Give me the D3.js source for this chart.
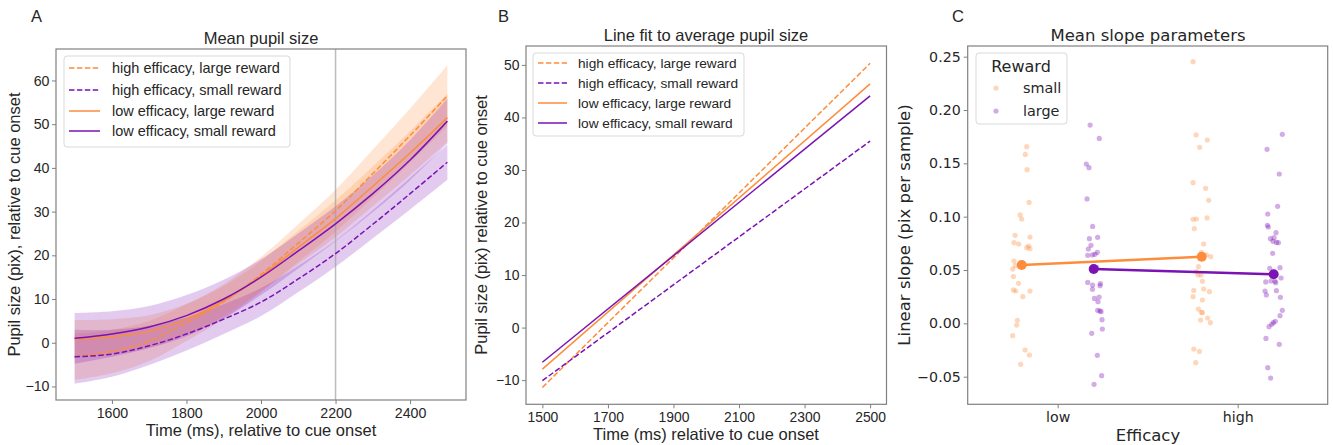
<!DOCTYPE html>
<html>
<head>
<meta charset="utf-8">
<script src="https://cdn.jsdelivr.net/npm/d3@7"></script>
<style>
body { margin: 0; background: #fff; }
text { fill: #262626; }
</style>
</head>
<body>
<svg id="fig" width="1333" height="445"></svg>
<script>

// ---------- data ----------

// panel A: mean pupil size (pix) with confidence band, sampled every 100 ms
var times = [1500, 1600, 1700, 1800, 1900, 2000, 2100, 2200, 2300, 2400, 2500];

var hiLargeMean = [-3.2, -2.0, 0.4, 4.6, 9.4, 15.6, 22.8, 30.2, 38.7, 47.4, 56.5];
var hiLargeLow  = [-8.5, -7.0, -4.2, 0.4, 5.4, 11.6, 18.5, 25.4, 33.2, 41.2, 49.5];
var hiLargeHigh = [2.1, 3.0, 5.0, 8.8, 13.4, 19.6, 27.1, 35.0, 44.2, 53.6, 63.5];

var hiSmallMean = [-3.2, -2.6, -0.7, 2.0, 5.4, 9.3, 14.6, 20.4, 27.1, 34.1, 41.3];
var hiSmallLow  = [-9.4, -7.8, -5.1, -1.8, 2.0, 6.1, 11.6, 17.4, 23.9, 30.5, 37.3];
var hiSmallHigh = [3.0, 3.0, 3.9, 5.8, 8.8, 12.5, 17.6, 23.4, 30.3, 37.7, 45.3];

var loLargeMean = [0.8, 1.4, 2.6, 5.4, 9.6, 15.2, 21.8, 28.4, 35.8, 43.4, 51.5];
var loLargeLow  = [-3.6, -2.6, -1.1, 1.9, 6.2, 11.7, 18.0, 24.2, 31.2, 38.4, 46.0];
var loLargeHigh = [5.2, 5.4, 6.3, 8.9, 13.0, 18.7, 25.6, 32.6, 40.4, 48.4, 57.0];

var loSmallMean = [1.0, 2.0, 3.6, 6.2, 10.0, 15.0, 21.0, 27.2, 34.1, 41.8, 50.7];
var loSmallLow  = [-4.8, -3.2, -1.2, 1.5, 5.6, 10.9, 17.0, 23.2, 29.9, 37.2, 45.5];
var loSmallHigh = [6.8, 7.2, 8.4, 10.9, 14.4, 19.1, 25.0, 31.2, 38.3, 46.4, 55.9];

var conditionNames = ["high efficacy, large reward", "high efficacy, small reward",
                      "low efficacy, large reward", "low efficacy, small reward"];
var markerTime = 2200;

// panel B: straight line fits, value at 1500 and at 2500 ms
var fitTimes = [1500, 2500];
var fitHiLarge = [-11.4, 50.3];
var fitHiSmall = [-10.1, 35.5];
var fitLoLarge = [-7.9, 46.4];
var fitLoSmall = [-6.6, 44.1];

// panel C: slopes per subject, jitter is the horizontal strip offset (category units)
var efficacyCats = ["low", "high"];
var rewardNames = ["small", "large"];

var lowSmallVals = [0.1656, 0.1584, 0.1441, 0.1134, 0.1016, 0.0978, 0.0825, 0.0809, 0.0756, 0.0744,
  0.0725, 0.0709, 0.0700, 0.0584, 0.0541, 0.0509, 0.0438, 0.0375, 0.0313, 0.0303,
  0.0303, 0.0250, 0.0028, -0.0016, -0.0116, -0.0250, -0.0297, -0.0384];
var lowSmallJit = [0.028, 0.020, 0.030, 0.041, -0.009, 0.000, -0.037, 0.046, -0.043, -0.017,
  0.039, 0.028, 0.046, -0.043, -0.035, -0.050, -0.046, -0.018, -0.046, -0.033,
  0.046, 0.006, -0.024, -0.028, -0.050, 0.019, 0.043, -0.006];

var lowLargeVals = [0.1859, 0.1734, 0.1494, 0.1459, 0.1166, 0.0909, 0.0806, 0.0794, 0.0731, 0.0697,
  0.0666, 0.0647, 0.0641, 0.0638, 0.0525, 0.0384, 0.0372, 0.0359, 0.0353, 0.0319,
  0.0247, 0.0234, 0.0203, 0.0122, 0.0116, 0.0109, 0.0034, -0.0053, -0.0094, -0.0300,
  -0.0491, -0.0572];
var lowLargeJit = [-0.020, 0.031, -0.041, -0.026, -0.037, -0.006, 0.022, -0.024, -0.015, -0.030,
  0.020, 0.007, -0.007, -0.033, 0.017, -0.033, 0.037, -0.006, 0.035, -0.007,
  0.030, 0.004, 0.024, 0.022, 0.035, 0.041, 0.046, 0.048, -0.011, 0.020,
  0.044, 0.002];

var highSmallVals = [0.2453, 0.1766, 0.1719, 0.1650, 0.1319, 0.1266, 0.1153, 0.0988, 0.0978, 0.0975,
  0.0888, 0.0744, 0.0666, 0.0641, 0.0625, 0.0531, 0.0484, 0.0453, 0.0453, 0.0394,
  0.0322, 0.0309, 0.0297, 0.0250, 0.0219, 0.0134, 0.0103, 0.0100, 0.0050, 0.0031,
  0.0006, -0.0241, -0.0263, -0.0369];
var highSmallJit = [-0.048, -0.031, 0.031, -0.011, -0.048, 0.022, 0.039, 0.030, -0.030, -0.048,
  -0.041, 0.011, -0.002, 0.026, 0.050, -0.018, -0.030, -0.020, -0.004, 0.004,
  0.011, -0.044, 0.043, -0.048, 0.004, -0.018, -0.002, 0.004, 0.033, -0.006,
  0.048, -0.044, -0.013, -0.033];

var highLargeVals = [0.1772, 0.1631, 0.1400, 0.1097, 0.1025, 0.0919, 0.0903, 0.0850, 0.0803, 0.0794,
  0.0769, 0.0759, 0.0756, 0.0656, 0.0522, 0.0516, 0.0466, 0.0425, 0.0397, 0.0394,
  0.0388, 0.0381, 0.0306, 0.0303, 0.0266, 0.0244, 0.0122, 0.0072, 0.0019, 0.0006,
  -0.0009, -0.0031, -0.0141, -0.0197, -0.0416, -0.0513];
var highLargeJit = [0.048, -0.037, 0.031, 0.022, -0.033, -0.035, -0.030, 0.013, 0.002, -0.018,
  -0.004, 0.015, 0.026, -0.006, 0.035, -0.022, 0.004, 0.041, -0.015, 0.007,
  -0.044, 0.011, 0.015, -0.048, -0.041, 0.037, 0.048, 0.035, 0.009, -0.002,
  -0.011, -0.026, -0.043, 0.031, -0.033, -0.017];

var meanSmall = [0.0547, 0.0625];
var meanLarge = [0.0510, 0.0460];

// ---------- drawing ----------

var orange = "#fd8d3c",
    purple = "#7a12b4",
    spine = "#808080",
    sansA = "'Liberation Sans', Arial, sans-serif",
    sansC = "'DejaVu Sans', sans-serif";

var fig = d3.select("#fig");

function styleAxis(ax, font, size) {
  ax.select(".domain").remove();
  ax.selectAll(".tick line").attr("stroke", spine).attr("stroke-width", 1);
  ax.selectAll(".tick text")
    .attr("fill", "#262626")
    .style("font-family", font)
    .style("font-size", size + "px");
}

function frame(g, w, h) {
  g.append("rect")
    .attr("width", w)
    .attr("height", h)
    .attr("fill", "none")
    .attr("stroke", spine)
    .attr("stroke-width", 1.2);
}

function label(x, y, txt, font, size, rot, anchor) {
  var t = fig.append("text")
    .attr("x", x).attr("y", y)
    .attr("text-anchor", anchor || "middle")
    .style("font-family", font)
    .style("font-size", size + "px")
    .text(txt);
  if (rot) t.attr("transform", "rotate(-90," + x + "," + y + ")");
  return t;
}

function rows(mean, low, high) {
  return times.map(function(t, i) { return {t: t, m: mean[i], lo: low[i], hi: high[i]}; });
}

var conds = [
  {name: conditionNames[0], color: orange, dash: "5.5,2.4", data: rows(hiLargeMean, hiLargeLow, hiLargeHigh), fit: fitHiLarge},
  {name: conditionNames[1], color: purple, dash: "5.5,2.4", data: rows(hiSmallMean, hiSmallLow, hiSmallHigh), fit: fitHiSmall},
  {name: conditionNames[2], color: orange, dash: null, data: rows(loLargeMean, loLargeLow, loLargeHigh), fit: fitLoLarge},
  {name: conditionNames[3], color: purple, dash: null, data: rows(loSmallMean, loSmallLow, loSmallHigh), fit: fitLoSmall}
];

var intFmt = d3.format("d");

/***************************************************************************
                          A: MEAN PUPIL SIZE
***************************************************************************/
var wA = 410, hA = 351;
var gA = fig.append("g").attr("transform", "translate(56,49)");
var xA = d3.scaleLinear().domain([1450, 2550]).range([0, wA]);
var yA = d3.scaleLinear().domain([-13.1, 67.2]).range([hA, 0]);

var areaA = d3.area()
  .curve(d3.curveCatmullRom.alpha(0.5))
  .x(function(d) { return xA(d.t); })
  .y0(function(d) { return yA(d.lo); })
  .y1(function(d) { return yA(d.hi); });

var lineA = d3.line()
  .curve(d3.curveCatmullRom.alpha(0.5))
  .x(function(d) { return xA(d.t); })
  .y(function(d) { return yA(d.m); });

gA.append("g").selectAll("path")
  .data(conds)
  .enter().append("path")
    .attr("d", function(d) { return areaA(d.data); })
    .attr("fill", function(d) { return d.color; })
    .attr("fill-opacity", 0.22);

gA.append("line")
  .attr("x1", xA(markerTime)).attr("x2", xA(markerTime))
  .attr("y1", 0).attr("y2", hA)
  .attr("stroke", "#a0a0a0")
  .attr("stroke-opacity", 0.7)
  .attr("stroke-width", 1.5);

gA.append("g").selectAll("path")
  .data(conds)
  .enter().append("path")
    .attr("d", function(d) { return lineA(d.data); })
    .attr("fill", "none")
    .attr("stroke", function(d) { return d.color; })
    .attr("stroke-width", 1.5)
    .attr("stroke-dasharray", function(d) { return d.dash; });

var axA = gA.append("g")
  .attr("transform", "translate(0," + hA + ")")
  .call(d3.axisBottom(xA).tickValues([1600, 1800, 2000, 2200, 2400]).tickFormat(intFmt).tickSize(4).tickPadding(3.5));
styleAxis(axA, sansA, 14.2);
var ayA = gA.append("g")
  .call(d3.axisLeft(yA).tickValues([-10, 0, 10, 20, 30, 40, 50, 60]).tickFormat(intFmt).tickSize(4).tickPadding(2.5));
styleAxis(ayA, sansA, 14.2);
frame(gA, wA, hA);

function legendLines(g, x0, y0, w, h, rowY, hx0, hx1, tx, size) {
  g.append("rect")
    .attr("x", x0).attr("y", y0)
    .attr("width", w).attr("height", h)
    .attr("rx", 3)
    .attr("fill", "#fff").attr("fill-opacity", 0.8)
    .attr("stroke", "#d9d9d9");
  var it = g.selectAll(".leg")
    .data(conds)
    .enter().append("g")
      .attr("transform", function(d, i) { return "translate(0," + rowY[i] + ")"; });
  it.append("line")
    .attr("x1", hx0).attr("x2", hx1)
    .attr("stroke", function(d) { return d.color; })
    .attr("stroke-width", 1.5)
    .attr("stroke-dasharray", function(d) { return d.dash; });
  it.append("text")
    .attr("x", tx).attr("dy", "0.35em")
    .style("font-family", sansA)
    .style("font-size", size + "px")
    .text(function(d) { return d.name; });
}
legendLines(fig, 64, 56, 226, 91, [68, 90, 111, 131], 69, 100, 112, 14.5);

label(31, 22, "A", sansA, 16.5, false, "start");
label(261, 44, "Mean pupil size", sansA, 16.5);
label(261, 436, "Time (ms), relative to cue onset", sansA, 16.5);
label(19.5, 224.5, "Pupil size (pix), relative to cue onset", sansA, 16.5, true);

/***************************************************************************
                          B: LINE FITS
***************************************************************************/
var wB = 360.5, hB = 358.3;
var gB = fig.append("g").attr("transform", "translate(526,46)");
var xB = d3.scaleLinear().domain([1450, 2550]).range([0, wB]);
var yB = d3.scaleLinear().domain([-14.6, 53.6]).range([hB, 0]);

var lineB = d3.line()
  .x(function(d, i) { return xB(fitTimes[i]); })
  .y(function(d) { return yB(d); });

gB.append("g").selectAll("path")
  .data(conds)
  .enter().append("path")
    .attr("d", function(d) { return lineB(d.fit); })
    .attr("fill", "none")
    .attr("stroke", function(d) { return d.color; })
    .attr("stroke-width", 1.5)
    .attr("stroke-dasharray", function(d) { return d.dash; });

var axB = gB.append("g")
  .attr("transform", "translate(0," + hB + ")")
  .call(d3.axisBottom(xB).tickValues([1500, 1700, 1900, 2100, 2300, 2500]).tickFormat(intFmt).tickSize(4).tickPadding(3.5));
styleAxis(axB, sansA, 13.9);
var ayB = gB.append("g")
  .call(d3.axisLeft(yB).tickValues([-10, 0, 10, 20, 30, 40, 50]).tickFormat(intFmt).tickSize(4).tickPadding(2.5));
styleAxis(ayB, sansA, 13.9);
frame(gB, wB, hB);

legendLines(fig, 533, 53, 211, 83, [63, 83, 103, 123], 538, 567, 578, 13.7);

label(498, 22, "B", sansA, 16.5, false, "start");
label(706, 41, "Line fit to average pupil size", sansA, 16.5);
label(706, 440, "Time (ms) relative to cue onset", sansA, 16.5);
label(487, 225, "Pupil size (pix) relative to cue onset", sansA, 16.5, true);

/***************************************************************************
                          C: SLOPE PARAMETERS
***************************************************************************/
var wC = 360, hC = 358.3;
var gC = fig.append("g").attr("transform", "translate(967.7,46)");
var xC = d3.scaleLinear().domain([-0.5, 1.5]).range([0, wC]);
var yC = d3.scaleLinear().domain([-0.0759, 0.26]).range([hC, 0]);
var dodge = 0.2;

var strips = [
  {vals: lowSmallVals, jit: lowSmallJit, pos: 0 - dodge, color: orange},
  {vals: lowLargeVals, jit: lowLargeJit, pos: 0 + dodge, color: purple},
  {vals: highSmallVals, jit: highSmallJit, pos: 1 - dodge, color: orange},
  {vals: highLargeVals, jit: highLargeJit, pos: 1 + dodge, color: purple}
];

strips.forEach(function(s) {
  gC.append("g").selectAll("circle")
    .data(s.vals)
    .enter().append("circle")
      .attr("cx", function(d, i) { return xC(s.pos + s.jit[i]); })
      .attr("cy", function(d) { return yC(d); })
      .attr("r", 2.6)
      .attr("fill", s.color)
      .attr("fill-opacity", 0.35);
});

var means = [
  {vals: meanSmall, off: -dodge, color: orange},
  {vals: meanLarge, off: dodge, color: purple}
];
var lineC = function(m) {
  return d3.line()
    .x(function(d, i) { return xC(i + m.off); })
    .y(function(d) { return yC(d); })(m.vals);
};
means.forEach(function(m) {
  gC.append("path")
    .attr("d", lineC(m))
    .attr("fill", "none")
    .attr("stroke", m.color)
    .attr("stroke-width", 2.5);
  gC.append("g").selectAll("circle")
    .data(m.vals)
    .enter().append("circle")
      .attr("cx", function(d, i) { return xC(i + m.off); })
      .attr("cy", function(d) { return yC(d); })
      .attr("r", 5)
      .attr("fill", m.color);
});

var axC = gC.append("g")
  .attr("transform", "translate(0," + hC + ")")
  .call(d3.axisBottom(xC).tickValues([0, 1]).tickFormat(function(d) { return efficacyCats[d]; }).tickSize(4).tickPadding(4));
styleAxis(axC, sansC, 14.2);
var ayC = gC.append("g")
  .call(d3.axisLeft(yC).tickValues([-0.05, 0, 0.05, 0.10, 0.15, 0.20, 0.25]).tickFormat(d3.format(".2f")).tickSize(4).tickPadding(3));
styleAxis(ayC, sansC, 14.2);
frame(gC, wC, hC);

// legend
fig.append("rect")
  .attr("x", 976).attr("y", 53)
  .attr("width", 91).attr("height", 71)
  .attr("rx", 3)
  .attr("fill", "#fff").attr("fill-opacity", 0.8)
  .attr("stroke", "#d9d9d9");
label(1021, 66, "Reward", sansC, 16).attr("dy", "0.35em");
var legC = fig.selectAll(".legc")
  .data(rewardNames)
  .enter().append("g")
    .attr("transform", function(d, i) { return "translate(0," + (88 + i * 23) + ")"; });
legC.append("circle")
  .attr("cx", 996).attr("r", 2.6)
  .attr("fill", function(d, i) { return i == 0 ? orange : purple; })
  .attr("fill-opacity", 0.35);
legC.append("text")
  .attr("x", 1023).attr("dy", "0.35em")
  .style("font-family", sansC)
  .style("font-size", "14.4px")
  .text(function(d) { return d; });

label(952, 22, "C", sansA, 16.5, false, "start");
label(1148, 40.5, "Mean slope parameters", sansC, 16.5);
label(1148, 441, "Efficacy", sansC, 16.5);
label(909.5, 225, "Linear slope (pix per sample)", sansC, 16.5, true);

</script>
</body>
</html>
